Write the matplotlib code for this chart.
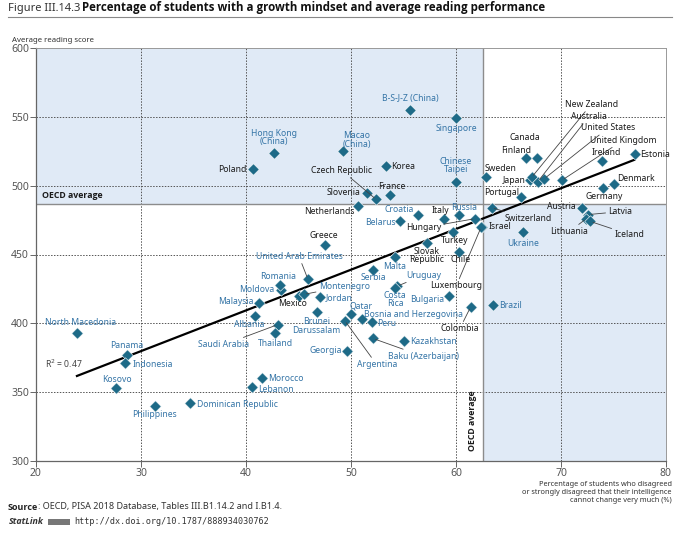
import numpy as np
import matplotlib
matplotlib.use("Agg")
import matplotlib.pyplot as plt
from matplotlib.lines import Line2D
from matplotlib.patches import Rectangle

plt.rcParams['font.family'] = ['Noto Sans', 'DejaVu Sans']
BOLD_FAMILY = ['Open Sans', 'Lato', 'DejaVu Sans']

# data ------------------------------------------------------------------
names = ["Poland", "Korea", "Czech Republic", "Slovenia", "France", "Netherlands",
         "Italy", "Hungary", "Israel", "Luxembourg", "Turkey", "Slovak Republic",
         "Chile", "Greece", "Mexico", "Colombia", "Sweden", "Portugal", "Switzerland",
         "Finland", "Canada", "Japan", "New Zealand", "Australia", "United States",
         "United Kingdom", "Ireland", "Estonia", "Denmark", "Germany", "Austria",
         "Latvia", "Lithuania", "Iceland",
         "Hong Kong (China)", "Macao (China)", "B-S-J-Z (China)", "Singapore",
         "Chinese Taipei", "Croatia", "Belarus", "Russia", "Ukraine", "Malta", "Serbia",
         "Uruguay", "Costa Rica", "Bulgaria", "Brazil", "Kazakhstan", "Baku (Azerbaijan)",
         "Peru", "Bosnia and Herzegovina", "Qatar", "Argentina", "Georgia",
         "Brunei Darussalam", "Jordan", "Montenegro", "Moldova", "Romania",
         "United Arab Emirates", "Malaysia", "Albania", "Saudi Arabia", "Thailand",
         "North Macedonia", "Panama", "Indonesia", "Kosovo", "Philippines",
         "Dominican Republic", "Morocco", "Lebanon"]

pct_growth = [40.7, 53.3, 52.4, 51.5, 53.7, 50.7,
              58.9, 61.8, 62.5, 62.4, 59.7, 57.2,
              60.3, 47.5, 45.0, 61.4, 62.9, 66.2, 63.4,
              66.7, 67.7, 67.0, 67.2, 67.8, 68.4,
              70.1, 73.9, 77.0, 75.0, 74.0, 72.0,
              72.6, 72.4, 72.8,
              42.7, 49.2, 55.6, 60.0,
              60.0, 56.4, 54.7, 60.3, 66.4, 54.2, 52.1,
              54.4, 54.2, 59.3, 63.5, 55.0, 52.1,
              52.0, 51.0, 50.0, 49.4, 49.6,
              46.8, 47.0, 45.5, 43.3, 43.2,
              45.9, 41.2, 40.9, 43.0, 42.8,
              23.9, 28.7, 28.5, 27.6, 31.3,
              34.7, 41.5, 40.6]

reading = [512, 514, 490, 495, 493, 485,
           476, 476, 470, 470, 466, 458,
           452, 457, 420, 412, 506, 492, 484,
           520, 520, 504, 506, 503, 505,
           504, 518, 523, 501, 498, 484,
           479, 476, 474,
           524, 525, 555, 549,
           503, 479, 474, 479, 466, 448, 439,
           427, 426, 420, 413, 387, 389,
           401, 403, 407, 402, 380,
           408, 419, 421, 424, 428,
           432, 415, 405, 399, 393,
           393, 377, 371, 353, 340,
           342, 360, 354]

n_oecd = 34  # first 34 entries are OECD countries, the rest partners
oecd_avg_pct = 62.6
oecd_avg_read = 487
r_squared = 0.47

# label placement: offset in pixels (dx, dy up), alignment, leader line
label_text = {"Hong Kong (China)": "Hong Kong\n(China)", "Macao (China)": "Macao\n(China)",
              "Chinese Taipei": "Chinese\nTaipei", "Slovak Republic": "Slovak\nRepublic",
              "Costa Rica": "Costa\nRica", "Brunei Darussalam": "Brunei\nDarussalam"}
place = {
    "Hong Kong (China)": (0, 15, "center", False), "Poland": (-7, 0, "right", False),
    "B-S-J-Z (China)": (1, 11, "center", False), "Singapore": (0, -10, "center", False),
    "Macao (China)": (14, 11, "center", False), "Korea": (5, 0, "left", False),
    "Czech Republic": (-4, 29, "right", True), "Slovenia": (-6, 0, "right", False),
    "France": (2, 9, "center", False), "Chinese Taipei": (0, 16, "center", False),
    "Netherlands": (-4, -5, "right", False), "Croatia": (-4, 5, "right", False),
    "Belarus": (-5, -1, "right", False), "Italy": (-4, 8, "center", False),
    "Russia": (5, 7, "center", False), "Hungary": (-34, -9, "right", True),
    "Israel": (6, 0, "left", False), "Turkey": (2, -8, "center", False),
    "Slovak Republic": (0, -12, "center", False), "Chile": (1, -8, "center", False),
    "Sweden": (14, 9, "center", False), "Portugal": (-2, 4, "right", False),
    "Switzerland": (13, -11, "left", True), "Ukraine": (0, -11, "center", False),
    "Finland": (-10, 8, "center", False), "Canada": (-12, 21, "center", False),
    "Japan": (-4, 0, "right", False), "New Zealand": (33, 73, "left", True),
    "Australia": (33, 65, "left", True), "United States": (37, 51, "left", True),
    "United Kingdom": (28, 40, "left", True), "Ireland": (4, 8, "center", False),
    "Estonia": (6, 0, "left", False), "Denmark": (4, 6, "left", False),
    "Germany": (1, -8, "center", False), "Austria": (-6, 1, "right", False),
    "Latvia": (20, 3, "left", True), "Lithuania": (-17, -13, "center", True),
    "Iceland": (24, -13, "left", True), "North Macedonia": (4, 10, "center", False),
    "Panama": (-1, 9, "center", False), "Indonesia": (7, -1, "left", False),
    "Kosovo": (1, 9, "center", False), "Philippines": (0, -9, "center", False),
    "Dominican Republic": (7, -1, "left", False), "Morocco": (6, 0, "left", False),
    "Lebanon": (6, -3, "left", False), "Malaysia": (-5, 1, "right", False),
    "Albania": (-6, -8, "center", False), "Saudi Arabia": (-28, -20, "right", True),
    "Thailand": (0, -11, "center", False), "Romania": (-1, 8, "center", False),
    "Moldova": (-6, 1, "right", False), "United Arab Emirates": (-9, 23, "center", True),
    "Mexico": (-6, -8, "center", False), "Montenegro": (15, 8, "left", True),
    "Jordan": (6, 0, "left", False), "Brunei Darussalam": (-1, -14, "center", False),
    "Georgia": (-5, 0, "right", False), "Qatar": (10, 8, "center", False),
    "Argentina": (32, -44, "center", True), "Bosnia and Herzegovina": (3, 5, "left", False),
    "Peru": (5, -2, "left", False), "Baku (Azerbaijan)": (15, -18, "left", True),
    "Kazakhstan": (7, 0, "left", False), "Serbia": (0, -8, "center", False),
    "Malta": (0, -9, "center", False), "Uruguay": (9, 11, "left", True),
    "Costa Rica": (0, -12, "center", False), "Bulgaria": (-4, -4, "right", False),
    "Luxembourg": (-25, -59, "center", True), "Colombia": (-11, -22, "center", True),
    "Brazil": (6, 0, "left", False), "Greece": (-1, 9, "center", False),
}

x = np.array(pct_growth)
y = np.array(reading)

# figure ----------------------------------------------------------------
W, H = 680, 539
fig = plt.figure(figsize=(W / 100, H / 100), dpi=100)
ax = fig.add_axes([36 / W, 78 / H, 630 / W, 413 / H])
ax.set_xlim(20, 80)
ax.set_ylim(300, 600)

shade = "#e0eaf6"
ax.fill_between([20, oecd_avg_pct], oecd_avg_read, 600, color=shade, lw=0, zorder=0)
ax.fill_between([oecd_avg_pct, 80], 300, oecd_avg_read, color=shade, lw=0, zorder=0)

for v in [30, 40, 50, 60, 70]:
    ax.axvline(v, color="#555555", lw=0.7, ls=(0, (1.5, 1.5)), zorder=1)
for v in [350, 400, 450, 500, 550]:
    ax.axhline(v, color="#555555", lw=0.7, ls=(0, (1.5, 1.5)), zorder=1)
ax.axvline(oecd_avg_pct, color="#8c8c8c", lw=1.0, zorder=1)
ax.axhline(oecd_avg_read, color="#8c8c8c", lw=1.0, zorder=1)

# trend line
slope, icpt = np.polyfit(x, y, 1)
xs = np.array([x.min(), x.max()])
ax.plot(xs, slope * xs + icpt, color="black", lw=1.6, zorder=3)

ax.scatter(x, y, marker="D", s=34, color="#1d6a87", edgecolors="white",
           linewidths=0.4, zorder=4)

for i, nm in enumerate(names):
    dx, dy, ha, leader = place[nm]
    col = "#1a1a1a" if i < n_oecd else "#3474a6"
    kw = {}
    if leader:
        kw["arrowprops"] = dict(arrowstyle="-", color="#444444", lw=0.6,
                                shrinkA=0, shrinkB=2)
    ax.annotate(label_text.get(nm, nm), (x[i], y[i]), xytext=(dx, dy),
                textcoords="offset pixels", ha=ha, va="center", fontsize=6.2,
                color=col, linespacing=0.95, zorder=5, **kw)

ax.text(20.9, 370.5, r"R$^2$ = %.2f" % r_squared, fontsize=6.2, color="#444444",
        ha="left", va="center")
ax.text(20.6, 492.8, "OECD average", fontsize=6.3, fontweight="bold", family=BOLD_FAMILY,
        color="#1a1a1a", ha="left", va="center", zorder=5)
ax.text(61.6, 329, "OECD average", fontsize=6.3, fontweight="bold", rotation=90,
        family=BOLD_FAMILY, color="#1a1a1a", ha="center", va="center", zorder=5)

ax.set_xticks([20, 30, 40, 50, 60, 70, 80])
ax.set_yticks([300, 350, 400, 450, 500, 550, 600])
ax.tick_params(labelsize=7.5, labelcolor="#555555", color="#666666",
               length=4, width=0.7, pad=1)
for s in ["left", "bottom"]:
    ax.spines[s].set_color("#666666")
    ax.spines[s].set_linewidth(0.9)
for s in ["top", "right"]:
    ax.spines[s].set_color("#999999")
    ax.spines[s].set_linewidth(0.7)

# texts around the plot ---------------------------------------------------
def fy(py):
    return 1 - py / H

fig.text(8 / W, fy(8), "Figure III.14.3", fontsize=8, color="#333333",
         fontweight="light", va="center")
fig.text(82 / W, fy(8), "Percentage of students with a growth mindset and average reading performance",
         fontsize=8.3, fontweight="bold", family=BOLD_FAMILY, color="#111111", va="center")
fig.add_artist(Line2D([8 / W, 672 / W], [fy(17), fy(17)], color="#888888", lw=0.8))

fig.text(12 / W, fy(41), "Average reading score", fontsize=5.6, color="#333333", va="center")
fig.text(672 / W, fy(481), "Percentage of students who disagreed\n"
         "or strongly disagreed that their intelligence\ncannot change very much (%)",
         fontsize=5.3, color="#333333", ha="right", va="top", multialignment="right",
         linespacing=1.15)

renderer = fig.canvas.get_renderer()
src = fig.text(8 / W, fy(507), "Source", fontsize=6.5, fontweight="bold", family=BOLD_FAMILY,
               color="#222222", va="center")
bb = src.get_window_extent(renderer)
fig.text(bb.x1 / W, fy(507), ": OECD, PISA 2018 Database, Tables III.B1.14.2 and I.B1.4.",
         fontsize=6.5, color="#333333", va="center")

sl = fig.text(9 / W, fy(522), "StatLink", fontsize=6.4, fontweight="bold", style="italic",
              family=BOLD_FAMILY, color="#333333", va="center")
bb = sl.get_window_extent(renderer)
fig.add_artist(Rectangle(((bb.x1 + 4) / W, fy(525)), 22 / W, 6 / H,
                         transform=fig.transFigure, color="#777777", lw=0))
fig.text((bb.x1 + 30) / W, fy(522), "http://dx.doi.org/10.1787/888934030762",
         fontsize=6.1, family="DejaVu Sans Mono", color="#333333", va="center")

fig.savefig("out.png", dpi=100)
